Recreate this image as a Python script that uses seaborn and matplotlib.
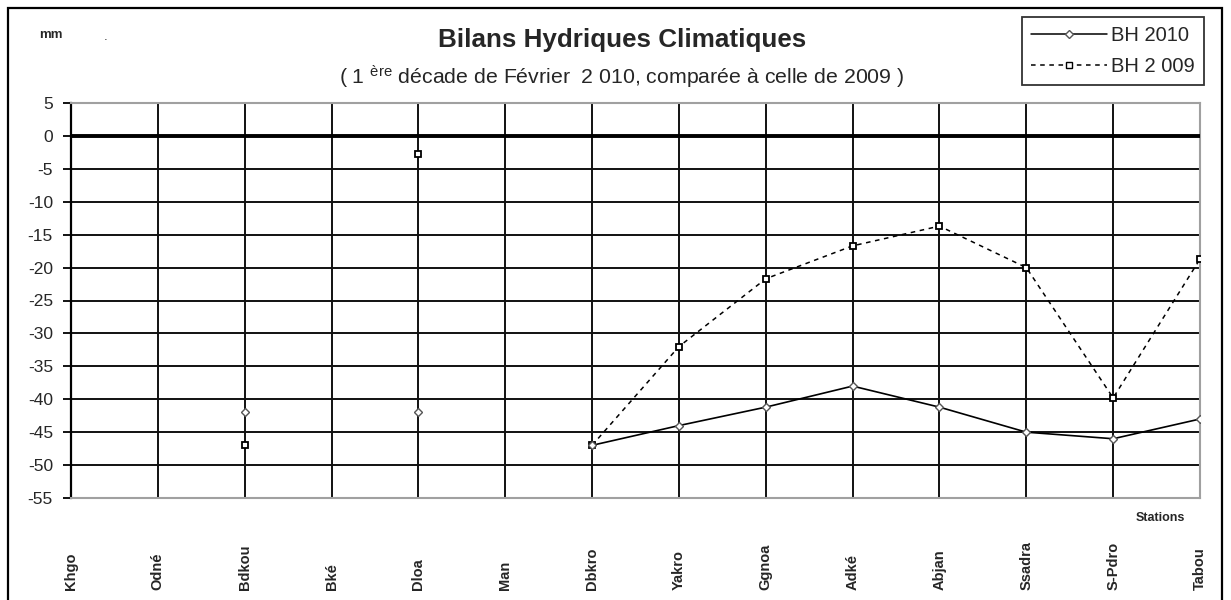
import numpy as np
import pandas as pd
import matplotlib
matplotlib.use("Agg")
import matplotlib.pyplot as plt
from matplotlib.lines import Line2D
from matplotlib.patches import Rectangle
import seaborn as sns

# ---------------- data ----------------
stations = ["Khgo", "Odné", "Bdkou", "Bké", "Dloa", "Man", "Dbkro", "Yakro",
            "Ggnoa", "Adké", "Abjan", "Ssadra", "S-Pdro", "Tabou"]
bh_2010 = [np.nan, np.nan, -42, np.nan, -42, np.nan, -47, -44,
           -41.2, -38, -41.2, -45, -46, -43]
bh_2009 = [np.nan, np.nan, -47, np.nan, -2.8, np.nan, -47, -32,
           -21.7, -16.7, -13.7, -20, -39.8, -18.7]
series_names = ["BH 2010", "BH 2 009"]
y_ticks = list(range(-55, 6, 5))

# ---------------- style ----------------
sns.set_style("white")
plt.rcParams["font.family"] = ["Liberation Sans", "DejaVu Sans"]
plt.rcParams["mathtext.fontset"] = "custom"
plt.rcParams["mathtext.rm"] = "Liberation Sans"
plt.rcParams["mathtext.it"] = "Liberation Sans:italic"
plt.rcParams["mathtext.bf"] = "Liberation Sans:bold"


def to_frame(values):
    df = pd.DataFrame({"pos": np.arange(len(stations)), "val": values})
    df["seg"] = df["val"].isna().cumsum()
    return df.dropna()


fig = plt.figure(figsize=(12.31, 6.0), dpi=100)
ax = fig.add_axes([71 / 1231, 102 / 600, (1200 - 71) / 1231, (498 - 103) / 600])

d10 = to_frame(bh_2010)
d09 = to_frame(bh_2009)

sns.lineplot(data=d09, x="pos", y="val", units="seg", estimator=None, ax=ax,
             color="black", linewidth=1.1, linestyle=(0, (3, 3)),
             marker="s", markersize=4.2, markerfacecolor="white",
             markeredgecolor="black", markeredgewidth=1.3, zorder=4)
sns.lineplot(data=d10, x="pos", y="val", units="seg", estimator=None, ax=ax,
             color="black", linewidth=1.2, linestyle="-",
             marker="D", markersize=4.2, markerfacecolor="white",
             markeredgecolor="#555555", markeredgewidth=1.0, zorder=5)

ax.set_xlim(0, len(stations) - 1)
ax.set_ylim(-55, 5)
ax.set_yticks(y_ticks)
ax.set_yticklabels([str(v) for v in y_ticks], fontsize=12.5)
ax.set_xticks(np.arange(len(stations)))
ax.set_xticklabels(stations, rotation=90, fontsize=10.5, fontweight="bold")
for lbl in ax.get_xticklabels():
    lbl.set_va("bottom")
ax.tick_params(axis="x", length=0, pad=66)
ax.tick_params(axis="y", direction="out", length=6, width=1.3, color="black",
               left=True, pad=7)
ax.set_xlabel("")
ax.set_ylabel("")

ax.grid(True, color="#111111", linewidth=1.4)
ax.set_axisbelow(True)
ax.axhline(0, color="black", linewidth=2.8, zorder=3)

for side in ["top", "right", "bottom"]:
    ax.spines[side].set_color("#a0a0a0")
    ax.spines[side].set_linewidth(1.5)
ax.spines["left"].set_color("black")
ax.spines["left"].set_linewidth(1.6)

# legend
handles = [
    Line2D([], [], color="black", linewidth=1.1, marker="D", markersize=4.5,
           markerfacecolor="white", markeredgecolor="#555555"),
    Line2D([], [], color="black", linewidth=1.1, linestyle=(0, (3, 3)),
           marker="s", markersize=4, markerfacecolor="white",
           markeredgecolor="black"),
]
leg = fig.legend(handles, series_names, loc="upper right",
                 bbox_to_anchor=(1204 / 1231, 1 - 17 / 600),
                 fontsize=14.5, frameon=True, fancybox=False, edgecolor="black",
                 handlelength=3.8, handletextpad=0.2, borderpad=0.45,
                 labelspacing=0.6, borderaxespad=0)
leg.get_frame().set_linewidth(1.3)

# titles and texts
fig.text(622 / 1231, 1 - 40 / 600, "Bilans Hydriques Climatiques",
         ha="center", va="center", fontsize=18.7, fontweight="bold")
fig.text(622 / 1231, 1 - 77 / 600,
         "( 1 $^{\\mathrm{ère}}$ décade de Février  2 010, comparée à celle de 2009 )",
         ha="center", va="center", fontsize=15.3)
fig.text(51 / 1231, 1 - 35 / 600, "mm", ha="center", va="center",
         fontsize=9.5, fontweight="bold")
fig.text(106 / 1231, 1 - 37 / 600, ".", ha="center", va="center", fontsize=9.5)
fig.text(1160 / 1231, 1 - 518 / 600, "Stations", ha="center", va="center",
         fontsize=9, fontweight="bold")

# outer frame
fig.patches.append(Rectangle((8 / 1231, -0.02), (1222 - 8) / 1231, 1 - 8 / 600 + 0.02,
                             transform=fig.transFigure, fill=False,
                             edgecolor="black", linewidth=1.6))

fig.savefig("out.png", dpi=100)
